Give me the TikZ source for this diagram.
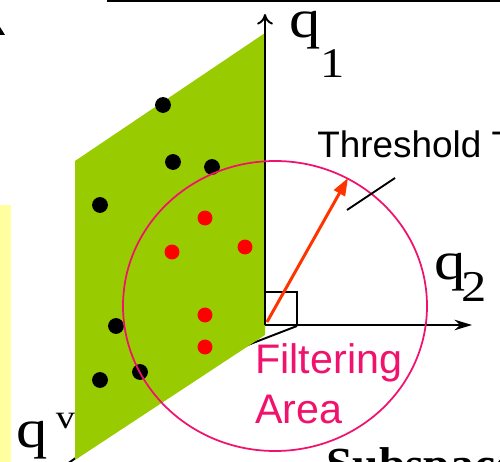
\documentclass[tikz,border=0pt]{standalone}
\usepackage{fontspec}
\setmainfont{Liberation Serif}
\setsansfont{Liberation Sans}
\usetikzlibrary{arrows.meta}
\definecolor{planegreen}{HTML}{99CC00}
\definecolor{areapink}{HTML}{F0136E}
\definecolor{arrowred}{HTML}{FF3300}
\definecolor{notepaper}{HTML}{FFFFA0}
\tikzset{
  axis/.style={black, line width=1.1pt, -{Stealth[length=10pt,width=6pt]}},
  point/.style={circle, fill=black, inner sep=0pt, minimum size=9pt},
  hit/.style={circle, fill=red, inner sep=0pt, minimum size=8.5pt},
  axlbl/.style={inner sep=0pt, font=\fontsize{31}{32}\selectfont},
  note/.style={inner sep=0pt, font=\sffamily\fontsize{21}{25}\selectfont}
}
\begin{document}
\begin{tikzpicture}[x=0.02cm, y=-0.02cm]
  \useasboundingbox (0,0) rectangle (500,462);
  \clip (0,0) rectangle (500,462);
  % pieces of the slide around the figure
  \fill (107,0) rectangle (500,2.5);
  \fill (0,27) -- (5,35) -- (0,35) -- cycle;
  \fill[notepaper] (0,205) rectangle (11,462);
  % axes and the plane
  \coordinate (o) at (265,325);
  \coordinate (q1tip) at (265,14);
  \coordinate (q2tip) at (472,325);
  \coordinate (qvtip) at (60,469);
  \draw[black, line width=1.1pt] (o) -- (qvtip);
  \draw[black, line width=1.1pt] (297,326) -- (240,348);
  \fill[planegreen] (265,33) -- (75,161) -- (75,460) -- (265,335) -- cycle;
  \foreach \p [count=\i] in {(163,105),(173,162),(212,167),(100,205),(116,326),(140,372),(100,380)}
    \node[point] (b\i) at \p {};
  \foreach \p [count=\i] in {(205,218),(172,252),(245,247),(205,315),(205,347)}
    \node[hit] (r\i) at \p {};
  \draw[axis, -{To[length=6pt,width=9pt]}] (o) -- (q1tip);
  \draw[black, line width=1.1pt] (265,292) -- (297,292) -- (297,326);
  \draw[axis] (o) -- (q2tip);
  % filtering area
  \draw[areapink, line width=1pt] (275,306) ellipse [x radius=152, y radius=145];
  \coordinate (tip) at (348,178);
  \draw[arrowred, line width=1.7pt, -{Triangle[length=10pt,width=7pt]}] (267,322) -- (tip);
  \coordinate (t1) at (347,210);
  \coordinate (t2) at (395,178);
  \draw[black, line width=1.1pt] (t1) -- (t2);
  % labels
  \node[axlbl, anchor=base west] (q1lbl) at (289,38) {\scalebox{1.15}[1]{q\raisebox{-22.7pt}{\fontsize{24}{25}\selectfont 1}}};
  \node[axlbl, anchor=base west] (q2lbl) at (434,280) {\scalebox{1.15}[1]{q\hspace{-2pt}\raisebox{-12.5pt}{\fontsize{25}{25}\selectfont 2}}};
  \node[axlbl, anchor=base west] (qvlbl) at (16,447) {\scalebox{1.15}[1]{q\hspace{4pt}\raisebox{10.8pt}{\fontsize{19}{19}\selectfont v}}};
  \node[note, anchor=base west] (thr) at (317,158) {Threshold T};
  \node[note, areapink, anchor=base west, align=left, font=\sffamily\fontsize{23.5}{28.3}\selectfont] (area) at (255,423) {Filtering\\Area};
  \node[inner sep=0pt, anchor=base west, font=\bfseries\fontsize{27}{30}\selectfont] (sub) at (326,480) {Subspace};
\end{tikzpicture}
\end{document}
